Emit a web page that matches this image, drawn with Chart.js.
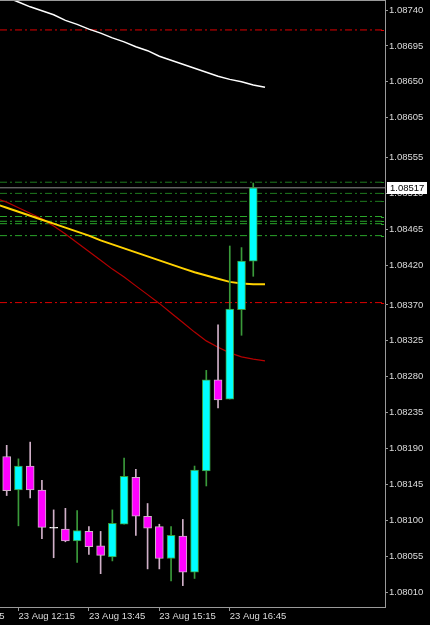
<!DOCTYPE html>
<html>
<head>
<meta charset="utf-8">
<script src="https://cdn.jsdelivr.net/npm/chart.js@4.4.0/dist/chart.umd.min.js"></script>
<style>
  html, body { margin: 0; padding: 0; background: #000; overflow: hidden; }
  canvas { display: block; }
</style>
</head>
<body>
<canvas id="chart" width="430" height="625"></canvas>
<script>
// M15 candles, 23 Aug 12:00 .. 17:15 (index 0..21)
const times  = ["12:00","12:15","12:30","12:45","13:00","13:15","13:30","13:45","14:00","14:15","14:30",
                "14:45","15:00","15:15","15:30","15:45","16:00","16:15","16:30","16:45","17:00","17:15"];
const opens  = [1.08180,1.08138,1.08168,1.08138,1.08090,1.08089,1.08074,1.08086,1.08068,1.08054,1.08095,
                1.08154,1.08105,1.08092,1.08052,1.08080,1.08035,1.08162,1.08276,1.08252,1.08364,1.08425];
const highs  = [1.08194,1.08177,1.08198,1.08150,1.08113,1.08115,1.08112,1.08092,1.08086,1.08113,1.08178,
                1.08164,1.08121,1.08095,1.08092,1.08101,1.08168,1.08288,1.08345,1.08444,1.08442,1.08523];
const lows   = [1.08131,1.08093,1.08128,1.08077,1.08053,1.08073,1.08047,1.08057,1.08033,1.08049,1.08095,
                1.08081,1.08039,1.08039,1.08024,1.08018,1.08027,1.08143,1.08241,1.08252,1.08332,1.08406];
const closes = [1.08137,1.08168,1.08138,1.08091,1.08090,1.08074,1.08087,1.08067,1.08056,1.08096,1.08155,
                1.08105,1.08090,1.08052,1.08081,1.08035,1.08163,1.08276,1.08251,1.08365,1.08425,1.08517];

// moving averages, one value per bar slot from -1 to 22
const maIdx    = [-1,0,1,2,3,4,5,6,7,8,9,10,11,12,13,14,15,16,17,18,19,20,21,22];
const maWhite  = [1.08762,1.08756,1.08750,1.08744,1.08739,1.08734,1.08727,1.08722,1.08716,1.08711,1.08705,1.08700,
                  1.08694,1.08689,1.08682,1.08677,1.08672,1.08667,1.08662,1.08657,1.08653,1.08650,1.08646,1.08643];
const maYellow = [1.08497,1.08492,1.08487,1.08482,1.08477,1.08472,1.08467,1.08462,1.08457,1.08451,1.08446,1.08441,
                  1.08436,1.08431,1.08426,1.08421,1.08416,1.08411,1.08407,1.08403,1.08399,1.08397,1.08396,1.08396];
const maRed    = [1.08504,1.08499,1.08492,1.08485,1.08478,1.08469,1.08459,1.08448,1.08437,1.08426,1.08415,1.08405,
                  1.08394,1.08383,1.08372,1.08360,1.08348,1.08336,1.08325,1.08317,1.08310,1.08305,1.08302,1.08300];

// horizontal levels
const redLevels       = [1.08715, 1.08373];
const darkGreenLevels = [1.08524, 1.08510, 1.08500];
const greenLevels     = [1.08481, 1.08475, 1.08472, 1.08457];
const bidPrice        = 1.08517;

// axes
const yTicks      = [1.08740,1.08695,1.08650,1.08605,1.08555,1.08510,1.08465,1.08420,1.08370,
                     1.08325,1.08280,1.08235,1.08190,1.08145,1.08100,1.08055,1.08010];
const xTickIdx    = [-5, 1, 7, 13, 19];
const xTickLabels = ["23 Aug 10:45","23 Aug 12:15","23 Aug 13:45","23 Aug 15:15","23 Aug 16:45"];

const X_MIN = -0.57, X_MAX = 32.22;
const Y_MIN = 1.079912, Y_MAX = 1.087513;

const FONT = { family: "'Liberation Sans', Arial, sans-serif", size: 9.5 };
const AXIS_COLOR = "#9a9a9a";
const TEXT_COLOR = "#dcdcdc";
const BULL_BODY = "#00ffff", BULL_EDGE = "#3a9a3a";
const BEAR_BODY = "#ff00ff", BEAR_EDGE = "#d0b0c8";

const isBull = i => closes[i] > opens[i];
const isDoji = i => closes[i] === opens[i];

const hline = (lvl, color, dash) => ({
  type: "line",
  data: [{ x: X_MIN, y: lvl }, { x: X_MAX, y: lvl }],
  borderColor: color,
  borderWidth: 1,
  borderDash: dash,
  pointRadius: 0,
  order: 5,
});

const maLine = (vals, color, w) => ({
  type: "line",
  data: maIdx.map((x, i) => ({ x, y: vals[i] })),
  borderColor: color,
  borderWidth: w,
  pointRadius: 0,
  tension: 0,
  order: 3,
});

const DASHDOT = [7, 3, 2, 3];

// background + frame + bid label
const mtPlugin = {
  id: "mt",
  beforeDraw(chart) {
    const { ctx, width, height } = chart;
    ctx.save();
    ctx.fillStyle = "#000";
    ctx.fillRect(0, 0, width, height);
    ctx.restore();
  },
  afterDraw(chart) {
    const { ctx, chartArea, scales } = chart;
    ctx.save();
    // top frame line
    ctx.fillStyle = AXIS_COLOR;
    ctx.fillRect(0, 0, chartArea.right + 1, 1);
    // small level markers on the price axis
    const marks = [
      ...redLevels.map(v => [v, "#dd0000"]),
      ...darkGreenLevels.map(v => [v, "#1f7a1f"]),
      ...greenLevels.map(v => [v, "#2aa52a"]),
    ];
    marks.forEach(([v, c]) => {
      const y = Math.round(scales.y.getPixelForValue(v));
      ctx.fillStyle = c;
      ctx.fillRect(chartArea.right - 4, y, 3, 1);
    });
    // current bid box
    const y = scales.y.getPixelForValue(bidPrice);
    ctx.fillStyle = "#ffffff";
    ctx.fillRect(chartArea.right + 2, Math.round(y) - 6, 40, 12);
    ctx.fillStyle = "#000000";
    ctx.font = `${FONT.size}px ${FONT.family}`;
    ctx.textBaseline = "middle";
    ctx.textAlign = "left";
    ctx.fillText(bidPrice.toFixed(5), chartArea.right + 5, Math.round(y) + 0.5);
    ctx.restore();
  },
};

new Chart(document.getElementById("chart"), {
  type: "bar",
  data: {
    datasets: [
      // candle bodies
      {
        type: "bar",
        data: times.map((t, i) => ({ x: i, y: [opens[i], closes[i]] })),
        backgroundColor: times.map((t, i) => isDoji(i) ? "#ffffff" : isBull(i) ? BULL_BODY : BEAR_BODY),
        borderColor: times.map((t, i) => isDoji(i) ? "#ffffff" : isBull(i) ? BULL_EDGE : BEAR_EDGE),
        borderWidth: 1,
        borderSkipped: false,
        barThickness: 8,
        minBarLength: 1,
        grouped: false,
        order: 0,
      },
      // wicks
      {
        type: "bar",
        data: times.map((t, i) => ({ x: i, y: [lows[i], highs[i]] })),
        backgroundColor: times.map((t, i) => isBull(i) ? BULL_EDGE : BEAR_EDGE),
        borderWidth: 0,
        barThickness: 1,
        grouped: false,
        order: 1,
      },
      maLine(maWhite, "#ffffff", 1.5),
      maLine(maYellow, "#ffd200", 2),
      maLine(maRed, "#b40000", 1.2),
      ...redLevels.map(v => hline(v, "#dd0000", DASHDOT)),
      ...darkGreenLevels.map(v => hline(v, "#1f7a1f", DASHDOT)),
      ...greenLevels.map(v => hline(v, "#2aa52a", DASHDOT)),
      hline(bidPrice, "#8a8a8a", []),
    ],
  },
  options: {
    responsive: false,
    animation: false,
    devicePixelRatio: 1,
    events: [],
    layout: { padding: { top: 1, left: 0, right: 0, bottom: 0 } },
    plugins: { legend: { display: false }, tooltip: { enabled: false } },
    scales: {
      x: {
        type: "linear",
        min: X_MIN,
        max: X_MAX,
        offset: false,
        afterBuildTicks: s => { s.ticks = xTickIdx.map(v => ({ value: v })); },
        afterFit: s => { s.height = 18; s.paddingLeft = 0; s.paddingRight = 0; },
        grid: { drawOnChartArea: false, offset: false, color: AXIS_COLOR, tickLength: 4 },
        border: { color: AXIS_COLOR, width: 1 },
        ticks: {
          color: TEXT_COLOR,
          font: FONT,
          align: "start",
          maxRotation: 0,
          autoSkip: false,
          padding: 0,
          callback: v => xTickLabels[xTickIdx.indexOf(v)],
        },
      },
      y: {
        type: "linear",
        position: "right",
        min: Y_MIN,
        max: Y_MAX,
        beginAtZero: false,
        afterBuildTicks: s => { s.ticks = yTicks.map(v => ({ value: v })); },
        afterFit: s => { s.width = 45; s.paddingTop = 0; s.paddingBottom = 0; },
        grid: { drawOnChartArea: false, color: AXIS_COLOR, tickLength: 3 },
        border: { color: AXIS_COLOR, width: 1 },
        ticks: {
          color: TEXT_COLOR,
          font: FONT,
          padding: 1,
          autoSkip: false,
          callback: v => v.toFixed(5),
        },
      },
    },
  },
  plugins: [mtPlugin],
});
</script>
</body>
</html>
